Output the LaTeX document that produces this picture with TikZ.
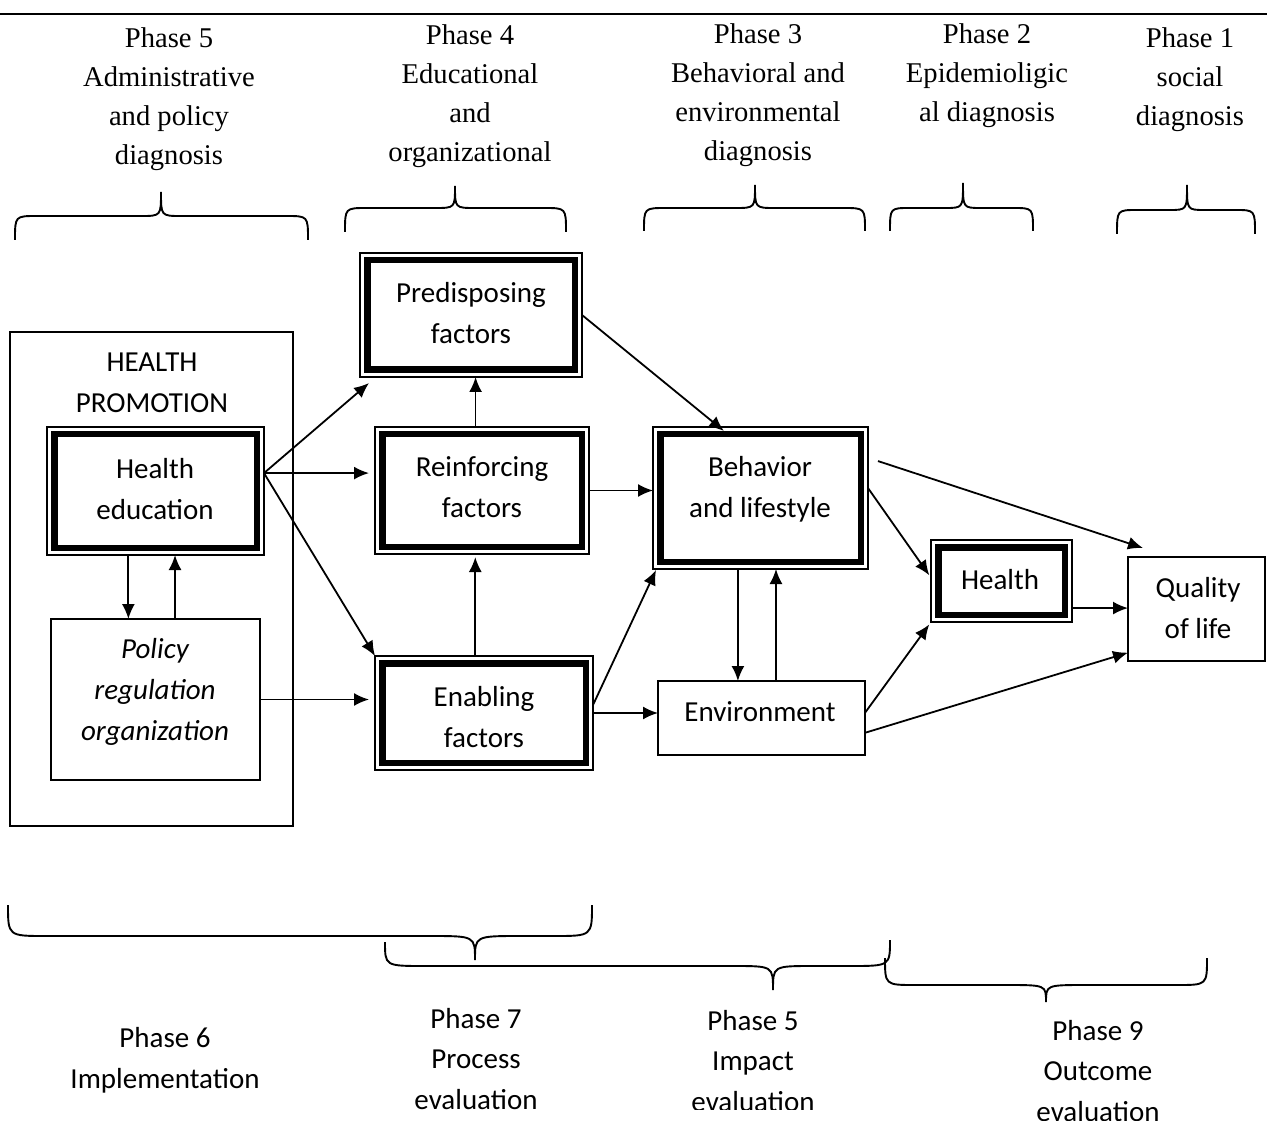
\documentclass[tikz,border=0pt]{standalone}
\usepackage{fontspec}
\setmainfont{Carlito}
\newfontfamily\tnr{Liberation Serif}
\usetikzlibrary{arrows.meta,calc}
\begin{document}
\begin{tikzpicture}[x=0.5pt,y=-0.5pt,
  thinbox/.style={draw, line width=0.8pt, inner sep=0pt, outer sep=0pt},
  tribox/.style={thinbox, path picture={\draw[line width=3.3pt] ([shift={(3.6pt,-3.6pt)}]path picture bounding box.north west) rectangle ([shift={(-3.6pt,3.6pt)}]path picture bounding box.south east);}},
  cal/.style={align=center, inner sep=0pt, font=\fontsize{14.5}{20.3}\selectfont},
  calit/.style={align=center, inner sep=0pt, font=\fontsize{14.5}{20.3}\selectfont\itshape},
  ser/.style={align=center, inner sep=0pt, font=\tnr\fontsize{14.3}{19.5}\selectfont},
  arr/.style={-{Latex[length=7.5pt,width=6.5pt]}, line width=0.9pt},
  brc/.style={line width=0.95pt},
]
\useasboundingbox (0,0) rectangle (1267,1133);
% top rule
\coordinate (ruleL) at (0,14);
\coordinate (ruleR) at (1267,14);
\draw[line width=1.4pt] (ruleL) -- (ruleR);

% top labels
\node[ser] (ph5T) at (169,99) {Phase 5\\Administrative\\and policy\\diagnosis};
\node[ser] (ph4T) at (470,96) {Phase 4\\Educational\\and\\organizational};
\node[ser] (ph3T) at (758,95) {Phase 3\\Behavioral and\\environmental\\diagnosis};
\node[ser] (ph2T) at (987,76) {Phase 2\\Epidemioligic\\al diagnosis};
\node[ser] (ph1T) at (1190,80) {Phase 1\\social\\diagnosis};

% top braces
\draw[brc] (15,240) .. controls (15,216) .. (37,216) -- (141,216) .. controls (161,216) .. (161,192) .. controls (161,216) .. (181,216) -- (286,216) .. controls (308,216) .. (308,240);
\draw[brc] (345,232) .. controls (345,208) .. (367,208) -- (435,208) .. controls (455,208) .. (455,186) .. controls (455,208) .. (475,208) -- (544,208) .. controls (566,208) .. (566,232);
\draw[brc] (644,231) .. controls (644,208) .. (666,208) -- (735,208) .. controls (755,208) .. (755,185) .. controls (755,208) .. (775,208) -- (843,208) .. controls (865,208) .. (865,231);
\draw[brc] (890,231) .. controls (890,208) .. (910,208) -- (945,208) .. controls (963,208) .. (963,183) .. controls (963,208) .. (981,208) -- (1013,208) .. controls (1033,208) .. (1033,231);
\draw[brc] (1117,234) .. controls (1117,210) .. (1137,210) -- (1169,210) .. controls (1187,210) .. (1187,185) .. controls (1187,210) .. (1205,210) -- (1235,210) .. controls (1255,210) .. (1255,234);

% boxes
\node[thinbox, minimum width=141.5pt, minimum height=247pt] (hp) at (151.5,579) {};
\node[cal] (hpT) at (152,383) {HEALTH\\PROMOTION};
\node[tribox, minimum width=108.5pt, minimum height=64pt] (he) at (155.5,491) {};
\node[cal] (heT) at (155,489) {Health\\education};
\node[thinbox, minimum width=104.5pt, minimum height=80.5pt] (pol) at (155.5,699.5) {};
\node[calit] (polT) at (155,692) {Policy\\regulation\\organization};

\node[tribox, minimum width=111pt, minimum height=62pt] (pre) at (471,315) {};
\node[cal] (preT) at (471,313) {Predisposing\\factors};
\node[tribox, minimum width=107pt, minimum height=63.5pt] (rei) at (482,490.5) {};
\node[cal] (reiT) at (482,487) {Reinforcing\\factors};
\node[tribox, minimum width=109pt, minimum height=57pt] (ena) at (484,713) {};
\node[cal] (enaT) at (484,717) {Enabling\\factors};
\node[tribox, minimum width=107.5pt, minimum height=71pt] (beh) at (760.5,498) {};
\node[cal] (behT) at (760,489) {Behavior\\and lifestyle};
\node[thinbox, minimum width=103.5pt, minimum height=37pt] (env) at (761.5,718) {};
\node[cal] (envT) at (760,712) {Environment};
\node[tribox, minimum width=70.5pt, minimum height=41pt] (hea) at (1001.5,581) {};
\node[cal] (heaT) at (1000,580) {Health};
\node[thinbox, minimum width=68.5pt, minimum height=52pt] (qol) at (1196.5,609) {};
\node[cal] (qolT) at (1198,608) {Quality\\of life};

% connectors
\coordinate (heo) at ($(he.north east)!0.36!(he.south east)$);
\draw[arr] (heo) -- ($(pre.south west)+(9,6)$);
\draw[arr, shorten >=3pt] (heo) -- (heo -| rei.west);
\draw[arr] (heo) -- (ena.north west);
\coordinate (hd) at ($(he.south west)!0.375!(he.south east)$);
\draw[arr] (hd) -- (hd |- pol.north);
\coordinate (hu) at ($(he.south west)!0.59!(he.south east)$);
\draw[arr] (hu |- pol.north) -- (hu);
\draw[arr, shorten >=3pt] (pol.east) -- (pol.east -| ena.west);
\coordinate (r1) at ($(rei.north west)!0.47!(rei.north east)$);
\draw[arr] (r1) -- (r1 |- pre.south);
\coordinate (e1) at ($(ena.north west)!0.46!(ena.north east)$);
\draw[arr, shorten >=1.5pt] (e1) -- (e1 |- rei.south);
\draw[arr] (pre.east) -- ($(beh.north west)!0.33!(beh.north east)+(0,4)$);
\draw[arr] (rei.east) -- (rei.east -| beh.west);
\draw[arr] ($(ena.north east)!0.43!(ena.south east)$) -- ($(beh.south west)+(3,1)$);
\draw[arr] (ena.east) -- (ena.east -| env.west);
\coordinate (b1) at ($(beh.south west)!0.395!(beh.south east)$);
\draw[arr] (b1) -- (b1 |- env.north);
\coordinate (b2) at ($(beh.south west)!0.572!(beh.south east)$);
\draw[arr] (b2 |- env.north) -- (b2);
\draw[arr, shorten >=1.5pt] ($(beh.north east)!0.43!(beh.south east)$) -- ($(hea.north west)!0.46!(hea.south west)$);
\draw[arr] ($(beh.north east)!0.24!(beh.south east)+(10,0)$) -- ($(qol.north west)+(15,-9)$);
\coordinate (h1) at ($(hea.north east)!0.83!(hea.south east)$);
\draw[arr] (h1) -- (h1 -| qol.west);
\draw[arr, shorten >=1.5pt] ($(env.north east)!0.43!(env.south east)$) -- (hea.south west);
\draw[arr] ($(env.north east)!0.70!(env.south east)$) -- ($(qol.north west)!0.92!(qol.south west)$);

% bottom braces
\draw[brc] (8,905) .. controls (8,936) .. (46,936) -- (430,936) .. controls (475,936) .. (475,960) .. controls (475,936) .. (520,936) -- (554,936) .. controls (592,936) .. (592,905);
\draw[brc] (385,942) .. controls (385,966) .. (425,966) -- (733,966) .. controls (773,966) .. (773,990) .. controls (773,966) .. (813,966) -- (850,966) .. controls (890,966) .. (890,940);
\draw[brc] (885,958) .. controls (885,985) .. (915,985) -- (1006,985) .. controls (1046,985) .. (1046,1002) .. controls (1046,985) .. (1086,985) -- (1177,985) .. controls (1207,985) .. (1207,958);

% bottom labels
\node[cal] (ph6B) at (165,1060) {Phase 6\\Implementation};
\node[cal] (ph7B) at (476,1059) {Phase 7\\Process\\evaluation};
\begin{scope}
\clip (600,990) rectangle (900,1109);
\node[cal] (ph5B) at (753,1061) {Phase 5\\Impact\\evaluation};
\end{scope}
\begin{scope}
\clip (950,1005) rectangle (1250,1120);
\node[cal] (ph9B) at (1098,1071) {Phase 9\\Outcome\\evaluation};
\end{scope}
\end{tikzpicture}
\end{document}
